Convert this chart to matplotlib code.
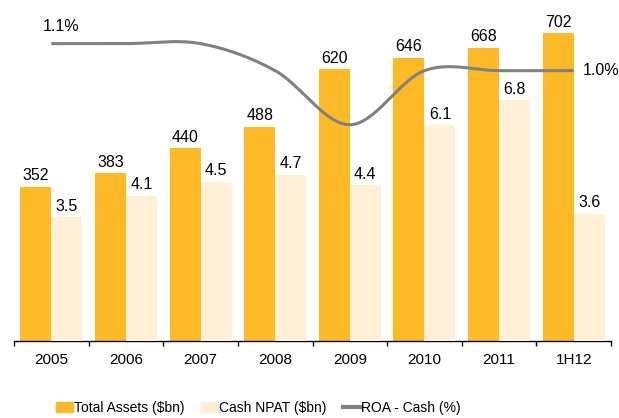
import numpy as np
import matplotlib.pyplot as plt
from matplotlib.patches import Patch
from matplotlib.lines import Line2D

periods = ['2005', '2006', '2007', '2008', '2009', '2010', '2011', '1H12']
total_assets = [352, 383, 440, 488, 620, 646, 668, 702]
cash_npat = [3.5, 4.1, 4.5, 4.7, 4.4, 6.1, 6.8, 3.6]
roa_cash = [1.1, 1.1, 1.1, 1.0, 0.8, 1.0, 1.0, 1.0]

gold = '#FDBA26'
cream = '#FEEFD6'
grey = '#808080'

plt.rcParams['font.family'] = ['Liberation Sans', 'DejaVu Sans']


def smooth(xs, ys, n=40):
    # catmull-rom, close to the smoothed line of the original
    pts = np.column_stack([xs, ys]).astype(float)
    ext = np.vstack([pts[0], pts, pts[-1]])
    t = np.linspace(0, 1, n)[:, None]
    out = []
    for i in range(len(pts) - 1):
        p0, p1, p2, p3 = ext[i], ext[i + 1], ext[i + 2], ext[i + 3]
        seg = 0.5 * (2 * p1 + (p2 - p0) * t + (2 * p0 - 5 * p1 + 4 * p2 - p3) * t ** 2
                     + (3 * p1 - p0 - 3 * p2 + p3) * t ** 3)
        out.append(seg if i == 0 else seg[1:])
    return np.vstack(out)


fig = plt.figure(figsize=(6.19, 4.18), dpi=100)
ax = fig.add_axes([14 / 619, 1 - 341 / 418, 597 / 619, 329 / 418])
ax2 = ax.twinx()
ax3 = ax.twinx()

x = np.arange(len(periods)) + 0.5
w = 31 / 74.6

b1 = ax.bar(x - w / 2, total_assets, w, color=gold)
b2 = ax2.bar(x + w / 2, cash_npat, w, color=cream)
ax.bar_label(b1, labels=[f'{v:d}' for v in total_assets], padding=2.5, fontsize=11.5)
ax2.bar_label(b2, labels=[f'{v:.1f}' for v in cash_npat], padding=2.5, fontsize=11.5)

curve = smooth(x, roa_cash)
ax3.plot(curve[:, 0], curve[:, 1], color=grey, lw=2.2, solid_capstyle='butt')
ax3.annotate('1.1%', (x[0], roa_cash[0]), xytext=(7, 12), textcoords='offset points',
             ha='center', va='center', fontsize=11.5)
ax3.annotate('1.0%', (x[-1], roa_cash[-1]), xytext=(6.5, 0), textcoords='offset points',
             ha='left', va='center', fontsize=11.5)

ax.set_xlim(0, len(periods))
ax.set_ylim(0, 750)
ax2.set_ylim(0, 9.30)
ax3.set_ylim(0, 1.217)

ax.set_xticks(np.arange(len(periods) + 1))
ax.set_xticklabels([])
ax.set_xticks(x, minor=True)
ax.set_xticklabels(periods, minor=True, fontsize=11)
ax.tick_params(axis='x', which='major', length=3.3, width=1, direction='out')
ax.tick_params(axis='x', which='minor', length=0, pad=9)

for a in (ax, ax2, ax3):
    for s in ('top', 'left', 'right'):
        a.spines[s].set_visible(False)
    a.set_yticks([])
ax2.spines['bottom'].set_visible(False)
ax3.spines['bottom'].set_visible(False)
ax.spines['bottom'].set_color('black')
ax.spines['bottom'].set_linewidth(1)

handles = [Patch(color=gold), Patch(color=cream), Line2D([], [], color=grey, lw=3)]
fig.legend(handles, ['Total Assets ($bn)', 'Cash NPAT ($bn)', 'ROA - Cash (%)'],
           loc='center left', bbox_to_anchor=(56 / 619, 1 - 408 / 418), ncol=3,
           frameon=False, fontsize=10, handlelength=1.25, handleheight=0.65,
           handletextpad=0.05, columnspacing=1.2, borderpad=0, borderaxespad=0)

fig.savefig('out.png', dpi=100)
